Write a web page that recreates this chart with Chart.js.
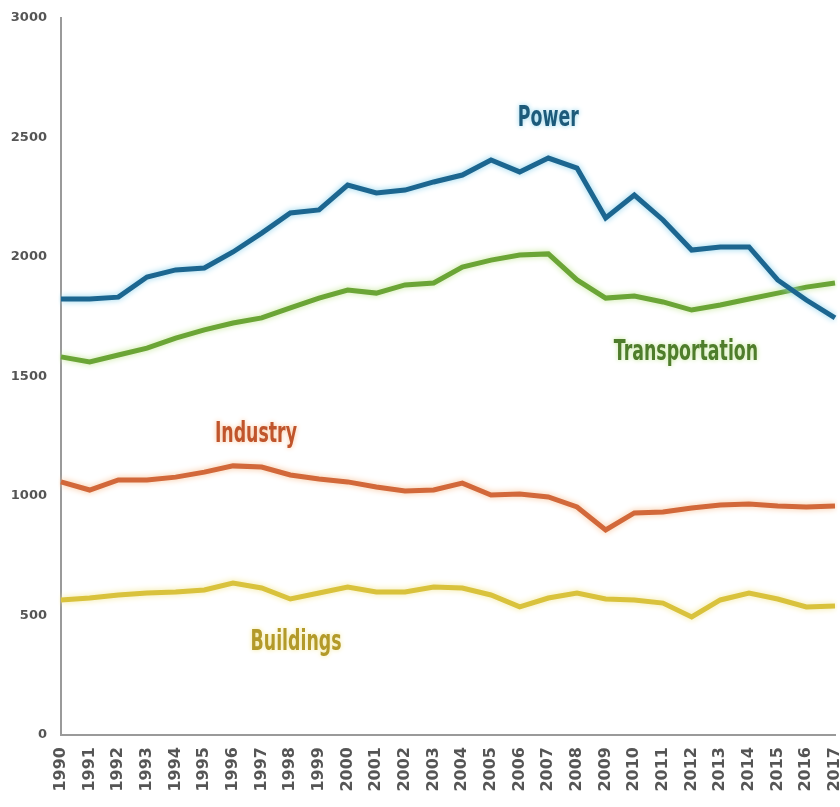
<!DOCTYPE html>
<html>
<head>
<meta charset="utf-8">
<script src="https://cdn.jsdelivr.net/npm/chart.js@4"></script>
<style>
  html, body { margin: 0; padding: 0; background: #fff; }
  #wrap { width: 840px; height: 807px; position: relative; }
</style>
</head>
<body>
<div id="wrap"><canvas id="myChart"></canvas></div>
<script>
// data
const years = ["1990","1991","1992","1993","1994","1995","1996","1997","1998","1999","2000","2001","2002","2003","2004","2005","2006","2007","2008","2009","2010","2011","2012","2013","2014","2015","2016","2017"];
const power = [1824,1824,1832,1916,1946,1954,2021,2100,2184,2197,2301,2268,2280,2314,2343,2406,2356,2414,2372,2163,2259,2155,2029,2042,2042,1904,1820,1745];
const transportation = [1582,1561,1590,1619,1661,1695,1724,1745,1787,1828,1862,1849,1883,1891,1958,1987,2008,2013,1904,1828,1837,1812,1778,1799,1824,1849,1874,1891];
const industry = [1059,1025,1067,1067,1079,1100,1126,1121,1088,1071,1059,1038,1021,1025,1054,1004,1008,996,954,858,929,933,950,962,967,958,954,958];
const buildings = [565,573,586,594,598,607,636,615,569,594,619,598,598,619,615,586,536,573,594,569,565,552,494,565,594,569,536,540];
const yTicks = [0, 500, 1000, 1500, 2000, 2500, 3000];

// series labels written on the chart: [text, year index, value]
const seriesNames = [
  ["Power", 17, 2580],
  ["Transportation", 21.8, 1600],
  ["Industry", 6.8, 1255],
  ["Buildings", 8.2, 385]
];

const lineColors = ["#1c6690", "#6ba536", "#d2683a", "#d9c23c"];
const glowColors = ["#8fd3ec", "#c6e79a", "#f7c49a", "#f3e89a"];
const textColors = ["#1d5a7a", "#4f7d2c", "#c0552c", "#b39a2a"];

const glowPlugin = {
  id: 'glow',
  beforeDatasetDraw(chart, args) {
    const ctx = chart.ctx;
    ctx.save();
    ctx.shadowColor = glowColors[args.index];
    ctx.shadowBlur = 6;
  },
  afterDatasetDraw(chart) {
    chart.ctx.restore();
  }
};

// names drawn in a squeezed bold face, like the condensed type of the original
const namePlugin = {
  id: 'names',
  afterDatasetsDraw(chart) {
    const ctx = chart.ctx;
    const x = chart.scales.x, y = chart.scales.y;
    const step = x.getPixelForValue(1) - x.getPixelForValue(0);
    seriesNames.forEach((s, i) => {
      const i0 = Math.floor(s[1]);
      const px = x.getPixelForValue(i0) + (s[1] - i0) * step;
      const py = y.getPixelForValue(s[2]);
      ctx.save();
      ctx.translate(px, py);
      ctx.scale(0.62, 1);
      ctx.font = "bold 28px 'DejaVu Sans', sans-serif";
      ctx.textAlign = "center";
      ctx.textBaseline = "middle";
      ctx.shadowColor = glowColors[i];
      ctx.shadowBlur = 5;
      ctx.fillStyle = textColors[i];
      ctx.fillText(s[0], 0, 0);
      ctx.restore();
    });
  }
};

function makeSet(label, data, i) {
  return {
    label: label,
    data: data,
    borderColor: lineColors[i],
    backgroundColor: lineColors[i],
    borderWidth: 5,
    pointRadius: 0,
    tension: 0,
    fill: false
  };
}

var ctx = document.getElementById('myChart').getContext('2d');
var myChart = new Chart(ctx, {
  type: 'line',
  data: {
    labels: years,
    datasets: [
      makeSet("Power", power, 0),
      makeSet("Transportation", transportation, 1),
      makeSet("Industry", industry, 2),
      makeSet("Buildings", buildings, 3)
    ]
  },
  options: {
    responsive: true,
    maintainAspectRatio: false,
    animation: false,
    layout: { padding: { top: 18, right: 5, left: 0, bottom: 0 } },
    plugins: { legend: { display: false }, tooltip: { enabled: false } },
    scales: {
      x: {
        offset: false,
        grid: { display: false, drawTicks: false },
        border: { color: "#9a9a9a", width: 2 },
        ticks: {
          autoSkip: false,
          maxRotation: 90,
          minRotation: 90,
          padding: 12,
          color: "#555",
          font: { family: "'DejaVu Sans', sans-serif", size: 16, weight: 'bold' }
        },
        afterFit(scale) {
          scale.height = 72;
          scale.paddingLeft = 0;
          scale.paddingRight = 0;
        }
      },
      y: {
        min: 0,
        max: 3000,
        afterBuildTicks(scale) { scale.ticks = yTicks.map(v => ({ value: v })); },
        grid: { display: false, drawTicks: false },
        border: { color: "#9a9a9a", width: 2 },
        ticks: {
          padding: 14,
          color: "#555",
          callback: v => String(v),
          font: { family: "'DejaVu Sans', sans-serif", size: 13, weight: 'bold' }
        },
        afterFit(scale) {
          scale.width = 61;
          scale.paddingTop = 0;
          scale.paddingBottom = 0;
        }
      }
    }
  },
  plugins: [glowPlugin, namePlugin]
});
</script>
</body>
</html>
